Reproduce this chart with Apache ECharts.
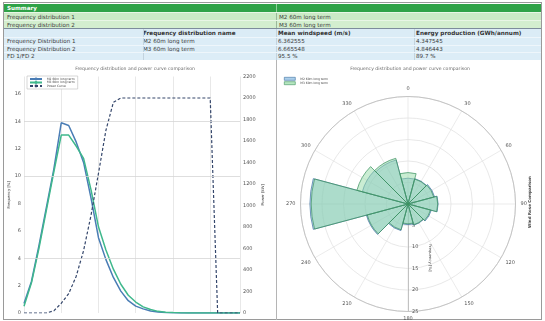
<!DOCTYPE html>
<html><head><meta charset="utf-8">
<script src="https://cdn.jsdelivr.net/npm/echarts@6/dist/echarts.min.js"></script>
<style>
html,body{margin:0;padding:0;background:#fff;width:545px;height:321px;overflow:hidden;font-family:"DejaVu Sans",Verdana,sans-serif;}
#frame{position:absolute;left:3px;top:2px;width:539px;height:318px;border:1px solid #9a9a9a;box-sizing:border-box;}
#table{position:absolute;left:0;top:0;width:545px;height:60px;}
.row{position:absolute;left:4px;width:537px;box-sizing:border-box;}
.cell{position:absolute;top:0;white-space:nowrap;font-size:5.6px;color:#3a3a3a;}
.vline{position:absolute;width:1px;}
#chart{position:absolute;left:0;top:60px;width:545px;height:261px;}
#divider{position:absolute;left:276px;top:60px;width:1px;height:260px;background:#b5b5b5;}
</style></head>
<body>
<div id="frame"></div>
<div id="table"></div>
<div id="divider"></div>
<div id="chart"></div>
<script>
// ---------- table data ----------
const summaryTitle = "Summary";
const summaryLabels = ["Frequency distribution 1", "Frequency distribution 2"];
const summaryValues = ["M2 60m long term", "M3 60m long term"];
const tableHeader = ["", "Frequency distribution name", "Mean windspeed (m/s)", "Energy production (GWh/annum)"];
const fdNames = ["Frequency Distribution 1", "Frequency Distribution 2", "FD 1/FD 2"];
const fdSources = ["M2 60m long term", "M3 60m long term", ""];
const meanWind = ["6.362555", "6.665548", "95.5 %"];
const energy = ["4.347545", "4.846443", "89.7 %"];

// ---------- line chart data ----------
const windSpeeds = [0,1,2,3,4,5,6,7,8,9,10,11,12,13,14,15,16,17,18,19,20,21,22,23,24,25,26,27,28,29];
const freqM2 = [0.7,2.3,4.9,7.7,10.5,13.9,13.7,12.5,11.0,8.4,5.5,3.9,2.6,1.6,0.9,0.5,0.3,0.15,0.08,0.04,0.02,0,0,0,0,0,0,0,0,0];
const freqM3 = [0.5,2.2,4.7,7.5,10.3,13.0,13.0,12.2,11.3,9.0,6.3,4.6,3.2,2.1,1.3,0.8,0.45,0.25,0.12,0.06,0.03,0.01,0,0,0,0,0,0,0,0];
const powerCurve = [0,0,0,0,20,90,180,340,580,910,1300,1700,1960,2000,2000,2000,2000,2000,2000,2000,2000,2000,2000,2000,2000,2000,0,0,0,0];
const freqGridValues = [4,10,14];

// ---------- wind rose data ----------
const directions = ["0","30","60","90","120","150","180","210","240","270","300","330"];
const roseM2 = [6.0,6.1,6.4,7.0,5.6,5.1,4.8,6.4,10.0,22.8,11.0,10.6];
const roseM3 = [7.3,6.0,6.2,6.9,5.4,5.0,4.6,6.2,9.8,22.5,12.3,11.0];

const nameM2 = "M2 60m long term";
const nameM3 = "M3 60m long term";
const namePower = "Power Curve";
const chartTitle = "Frequency distribution and power curve comparison";

// ---------- build table ----------
const T = document.getElementById('table');
function row(top, h, bg, extra) {
  const r = document.createElement('div');
  r.className = 'row';
  r.style.top = top + 'px'; r.style.height = h + 'px'; r.style.background = bg;
  if (extra) Object.assign(r.style, extra);
  T.appendChild(r);
  return r;
}
function cell(r, x, text, h, style) {
  const c = document.createElement('div');
  c.className = 'cell';
  c.style.left = (x - 4) + 'px';
  c.style.lineHeight = h + 'px';
  c.textContent = text;
  if (style) Object.assign(c.style, style);
  r.appendChild(c);
}
function vline(r, x, color) {
  const v = document.createElement('div');
  v.className = 'vline';
  v.style.left = (x - 4) + 'px'; v.style.top = '0'; v.style.height = '100%'; v.style.background = color;
  r.appendChild(v);
}
let r = row(3.5, 8, '#2fa247');
cell(r, 7, summaryTitle, 8, {color:'#fff', fontWeight:'bold'});
vline(r, 276, '#8fd09a');
for (let i = 0; i < 2; i++) {
  r = row(11.5 + i * 8, 8, i === 0 ? '#cbeac6' : '#d3eecf', {borderTop:'1px solid #e8f6e6'});
  cell(r, 7, summaryLabels[i], 8);
  cell(r, 279, summaryValues[i], 8);
  vline(r, 276, '#9bb89b');
}
row(27.5, 1.5, '#7d8c9c');
r = row(29, 8, '#dbecf6');
const colX = [7, 143, 278, 416];
tableHeader.forEach((t, j) => cell(r, colX[j], t, 8, {fontWeight:'bold', fontSize:'5.7px', color:'#333'}));
[143, 276, 414].forEach(x => vline(r, x, '#c3d3de'));
for (let i = 0; i < 3; i++) {
  r = row(37 + i * 7.5, 7.5, '#dcedf7', {borderTop:'1px solid #eef6fb'});
  cell(r, colX[0], fdNames[i], 7.5);
  cell(r, colX[1], fdSources[i], 7.5);
  cell(r, colX[2], meanWind[i], 7.5);
  cell(r, colX[3], energy[i], 7.5);
  [143, 276, 414].forEach(x => vline(r, x, '#c3d3de'));
}

// ---------- chart ----------
const chart = echarts.init(document.getElementById('chart'), null, {renderer:'canvas'});
const FONT = 'DejaVu Sans';
const plain = v => String(v);
const axisTxt = {fontSize:5, color:'#555', fontFamily:FONT};
const option = {
  animation: false,
  textStyle: {fontFamily: FONT},
  title: [
    {text: chartTitle, left: 135, top: 6, textAlign: 'center', padding: 0,
     textStyle: {fontSize: 4.6, fontWeight: 'normal', color: '#6a6a6a', fontFamily: FONT}},
    {text: chartTitle, left: 410, top: 6, textAlign: 'center', padding: 0,
     textStyle: {fontSize: 4.6, fontWeight: 'normal', color: '#6a6a6a', fontFamily: FONT}}
  ],
  legend: [
    {orient: 'vertical', left: 27, top: 16, itemWidth: 12, itemHeight: 3.5, itemGap: 0.5, padding: [1.5, 3, 1.5, 2],
     borderColor: '#bdbdbd', borderWidth: 0.6, backgroundColor: '#fff',
     textStyle: {fontSize: 3, color: '#444', fontFamily: FONT},
     data: [nameM2, nameM3, namePower]},
    {orient: 'vertical', left: 283, top: 16, itemWidth: 11, itemHeight: 3, itemGap: 0.8, padding: [1, 2, 1, 1],
     textStyle: {fontSize: 3, color: '#444', fontFamily: FONT},
     data: [
       {name: nameM2, icon: 'rect', itemStyle: {color: 'rgba(150,195,230,0.8)', borderColor: '#3b6e9e', borderWidth: 0.6}},
       {name: nameM3, icon: 'rect', itemStyle: {color: 'rgba(175,228,185,0.9)', borderColor: '#3a8f5e', borderWidth: 0.6}}
     ]}
  ],
  grid: {left: 24, right: 305, top: 16.5, bottom: 8},
  xAxis: {type: 'value', min: 0, max: 29, interval: 5,
    axisLabel: {show: false}, axisTick: {show: false}, axisLine: {show: false},
    splitLine: {show: true, lineStyle: {color: '#e2e2e2', width: 0.8}}},
  yAxis: [
    {type: 'value', min: 0, max: 17.28, interval: 2, position: 'left',
     axisLabel: Object.assign({margin: 3, showMaxLabel: false, formatter: plain}, axisTxt),
     axisLine: {show: false}, axisTick: {show: false}, splitLine: {show: false},
     name: 'Frequency [%]', nameLocation: 'middle', nameGap: 11,
     nameTextStyle: {fontSize: 3.8, color: '#444', fontFamily: FONT}},
    {type: 'value', min: 0, max: 2200, interval: 200, position: 'right',
     axisLabel: Object.assign({margin: 3, formatter: plain}, axisTxt),
     axisLine: {show: false}, axisTick: {show: false}, splitLine: {show: false},
     name: 'Power [kW]', nameLocation: 'middle', nameGap: 21,
     nameTextStyle: {fontSize: 3.8, color: '#444', fontFamily: FONT}}
  ],
  polar: [
    {center: [408, 144], radius: 107.5},
    {center: [408, 144], radius: 107.5}
  ],
  angleAxis: [
    {polarIndex: 0, type: 'value', min: 0, max: 360, interval: 30, startAngle: -90, clockwise: true,
     axisLine: {lineStyle: {color: '#c4c4c4', width: 1}}, axisTick: {show: false},
     axisLabel: Object.assign({margin: 5, formatter: v => String((v + 180) % 360)}, axisTxt),
     splitLine: {show: true, lineStyle: {color: '#e2e2e2', width: 0.7}}},
    {polarIndex: 1, type: 'category', data: directions, startAngle: 105, clockwise: true, boundaryGap: true,
     axisLine: {show: false}, axisTick: {show: false}, axisLabel: {show: false}, splitLine: {show: false}}
  ],
  radiusAxis: [
    {polarIndex: 0, type: 'value', min: 0, max: 25, interval: 5,
     axisLine: {lineStyle: {color: '#a0a0a0', width: 0.6}}, axisTick: {show: false},
     axisLabel: Object.assign({margin: 4, formatter: plain}, axisTxt),
     splitLine: {show: true, lineStyle: {color: '#e2e2e2', width: 0.8}},
     name: 'Frequency [%]', nameLocation: 'middle', nameGap: -24,
     nameTextStyle: {fontSize: 3.8, color: '#444', fontFamily: FONT}},
    {polarIndex: 1, type: 'value', min: 0, max: 25,
     axisLine: {show: false}, axisTick: {show: false}, axisLabel: {show: false}, splitLine: {show: false}}
  ],
  graphic: [
    {type: 'text', x: 530, y: 142, rotation: Math.PI / 2,
     style: {text: 'Wind Rose Comparison', fontSize: 4, fontWeight: 'bold', fill: '#444',
             align: 'center', verticalAlign: 'middle', fontFamily: FONT}}
  ],
  series: [
    {name: nameM2, type: 'line', xAxisIndex: 0, yAxisIndex: 0, symbol: 'none', showSymbol: false,
     data: windSpeeds.map((v, i) => [v, freqM2[i]]),
     color: '#4a7db5', lineStyle: {color: '#4a7db5', width: 1.5},
     markLine: {silent: true, symbol: 'none', label: {show: false},
       lineStyle: {color: '#d6d6d6', type: 'solid', width: 0.8},
       data: freqGridValues.map(v => ({yAxis: v}))}},
    {name: nameM3, type: 'line', xAxisIndex: 0, yAxisIndex: 0, symbol: 'none', showSymbol: false,
     data: windSpeeds.map((v, i) => [v, freqM3[i]]),
     color: '#3fb88c', lineStyle: {color: '#3fb88c', width: 1.5}},
    {name: namePower, type: 'line', xAxisIndex: 0, yAxisIndex: 1, symbol: 'none', showSymbol: false,
     data: windSpeeds.map((v, i) => [v, powerCurve[i]]),
     color: '#34466b', lineStyle: {color: '#34466b', width: 1.2, type: [3, 2]}},
    {name: nameM2, type: 'bar', coordinateSystem: 'polar', polarIndex: 1, data: roseM2,
     barCategoryGap: '0%', barGap: '-100%',
     itemStyle: {color: 'rgba(120,178,218,0.45)', borderColor: '#3b6e9e', borderWidth: 0.7}},
    {name: nameM3, type: 'bar', coordinateSystem: 'polar', polarIndex: 1, data: roseM3,
     barCategoryGap: '0%', barGap: '-100%',
     itemStyle: {color: 'rgba(150,220,168,0.5)', borderColor: '#3a8f5e', borderWidth: 0.7}}
  ]
};
chart.setOption(option);
</script>
</body></html>
